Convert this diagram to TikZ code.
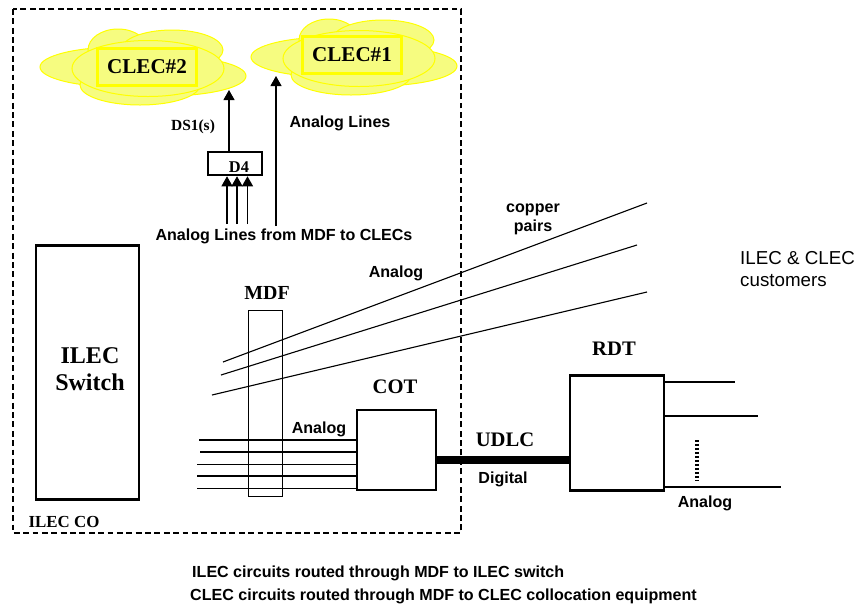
\documentclass[tikz,border=0pt]{standalone}
\usepackage{fontspec}
\setmainfont{Liberation Serif}
\setsansfont{Liberation Sans}
\usetikzlibrary{arrows.meta}
\definecolor{cloudfill}{HTML}{F6FC80}
\definecolor{cloudline}{HTML}{FFFF00}

\begin{document}
\begin{tikzpicture}[x=0.03cm, y=-0.03cm,
        box/.style={draw, line width=1.9pt, inner sep=0},
        thinbox/.style={draw, line width=0.9pt, inner sep=0},
        serif/.style={font=\fontsize{#1}{#1}\selectfont\bfseries, inner sep=0},
        sans/.style={font=\fontsize{13.7}{16}\selectfont\sffamily\bfseries, inner sep=0, yshift=-1.2pt},
        wire/.style={line width=0.95pt},
        uparrow/.style={wire, -{Triangle[length=0.3cm, width=0.33cm]}},
        cloudpart/.style={draw=cloudline, fill=cloudfill, line width=0.85pt}]
    \useasboundingbox (0,0) rectangle (855,605);

    % clouds
    \foreach \dx/\dy/\name/\cx/\cy in {0/0/CLEC\#2/147/67, 211/-10/CLEC\#1/352/55} {
        \begin{scope}[shift={(\dx,\dy)}]
            \draw[cloudpart] (120,67) ellipse (80 and 20);
            \draw[cloudpart] (165,76) ellipse (81 and 20);
            \draw[cloudpart] (118,50) ellipse (30 and 21);
            \draw[cloudpart] (172,50) ellipse (51 and 20);
            \draw[cloudpart] (140,85) ellipse (60 and 20);
            \draw[cloudpart] (148,68.5) ellipse (76 and 28);
        \end{scope}
        \node[draw=cloudline, fill=cloudfill, line width=2pt, minimum width=2.98cm,
            minimum height=1.1cm, inner sep=0] at (\cx,\cy) {};
        \node[serif=18] at (\cx,\cy) {\name};
    }

    \draw[dashed, line width=1.3pt, dash pattern=on 5pt off 3pt] (13,9) rectangle (461,533);

    % boxes
    \node[box, minimum width=3.09cm, minimum height=7.62cm] (switch) at (87.5,372.5) {};
    \node[serif=20.5, align=center] at (90,369) {ILEC\\[3pt]Switch};
    \node[thinbox, minimum width=1.02cm, minimum height=5.58cm] (mdf) at (265.5,403.5) {};
    \node[box, minimum width=2.37cm, minimum height=2.4cm] (cot) at (396.5,450) {};
    \node[box, minimum width=2.82cm, minimum height=3.45cm] (rdt) at (617,433) {};
    \node[box, minimum width=1.62cm, minimum height=0.7cm] (d4) at (235,163.5) {};
    \node[serif=14] at (239,167) {D4};

    % labels
    \node[serif=13.2] at (193,127) {DS1(s)};
    \node[sans] at (340,122) {Analog Lines};
    \node[sans] (mdflabel) at (284,235) {Analog Lines from MDF to CLECs};
    \node[sans, align=center] at (533,218) {copper\\pairs};
    \node[sans] at (396,272) {Analog};
    \node[font=\fontsize{16}{18}\selectfont\sffamily, align=left, anchor=west, inner sep=0] at (740,269) {ILEC \& CLEC\\customers};
    \node[serif=17] at (267,293) {MDF};
    \node[serif=17.6] at (395,387) {COT};
    \node[sans] at (319,428) {Analog};
    \node[serif=17.6] at (505,440) {UDLC};
    \node[sans] at (503,478) {Digital};
    \node[serif=17.6] at (614,349) {RDT};
    \node[sans] at (705,502) {Analog};
    \node[serif=14.4] at (64,522) {ILEC CO};
    \node[sans, anchor=west] at (192,572) {ILEC circuits routed through MDF to ILEC switch};
    \node[sans, anchor=west] at (190,595) {CLEC circuits routed through MDF to CLEC collocation equipment};

    % arrows up to D4 and the clouds
    \foreach \i/\x in {a/227, b/237, c/247.5} {
        \coordinate (in\i) at (\x,224);
        \draw[uparrow] (in\i) -- (in\i |- d4.south);
    }
    \coordinate (ds1end) at (229,90);
    \draw[uparrow] (ds1end |- d4.north) -- (ds1end);
    \coordinate (analogstart) at (276,226);
    \coordinate (analogend) at (276,76);
    \draw[uparrow] (analogstart) -- (analogend);

    % copper pairs
    \foreach \i/\xa/\ya/\xb/\yb in {1/223/362/647/203, 2/221/375/637/245, 3/212/395/647/292} {
        \coordinate (pairstart\i) at (\xa,\ya);
        \coordinate (pairend\i) at (\xb,\yb);
        \draw[wire] (pairstart\i) -- (pairend\i);
    }

    % analog lines into COT
    \foreach \i/\x/\y in {1/199/440, 2/200/452, 3/197/464.5, 4/197/476, 5/197/488.5} {
        \coordinate (line\i) at (\x,\y);
        \draw[wire] (line\i) -- (line\i -| cot.west);
    }

    % UDLC
    \draw[line width=6.4pt] (cot.east) ++(0,10) -- ++(134,0) coordinate (udlcend);

    % lines out of RDT
    \foreach \i/\x/\y in {1/735/382, 2/758/416, 3/781/487} {
        \coordinate (out\i) at (\x,\y);
        \draw[wire] (out\i -| rdt.east) -- (out\i);
    }
    \coordinate (dotstart) at (697,440);
    \coordinate (dotend) at (697,481);
    \draw[line width=3pt, dash pattern=on 2pt off 1.4pt] (dotstart) -- (dotend);
\end{tikzpicture}
\end{document}
